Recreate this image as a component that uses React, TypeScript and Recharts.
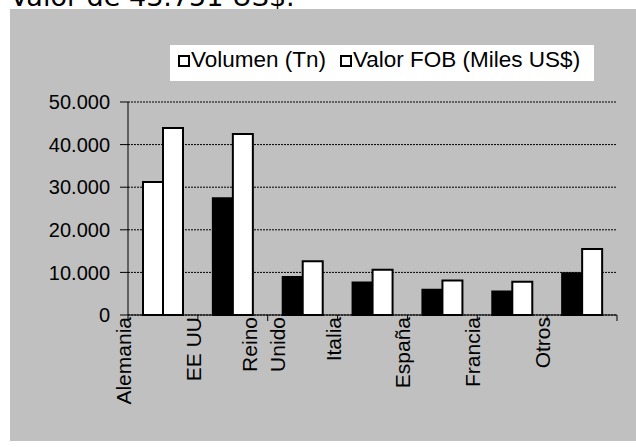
import { Bar, BarChart, CartesianGrid, Cell, XAxis, YAxis } from 'recharts'

// Exportaciones por destino
const paises = ['Alemania', 'EE UU', 'Reino Unido', 'Italia', 'España', 'Francia', 'Otros']
const volumen = [31200, 27400, 8900, 7600, 5900, 5500, 9800]
const valorFob = [43900, 42500, 12600, 10600, 8100, 7800, 15500]
const yTicks = [0, 10000, 20000, 30000, 40000, 50000]
const series = ['Volumen (Tn)', 'Valor FOB (Miles US$)']
const titulo = 'Valor de 43.751 US$.'

const data = paises.map((pais, i) => ({ pais, volumen: volumen[i], valorFob: valorFob[i] }))

const FONT = '"Liberation Sans", Arial, sans-serif'
const GRAY = '#c0c0c0'
const W = 626
const H = 432
const MARGIN = { top: 93, right: 19, bottom: 0, left: 0 }
const Y_AXIS_W = 118
const X_AXIS_H = 126

const fmt = (v: number) => String(v).replace(/\B(?=(\d{3})+(?!\d))/g, '.')

let ctx: CanvasRenderingContext2D | null = null
const measure = (s: string, size: number) => {
  if (!ctx) ctx = document.createElement('canvas').getContext('2d')
  if (!ctx) return s.length * size * 0.55
  ctx.font = `${size}px "Liberation Sans"`
  return ctx.measureText(s).width
}

const YTick = ({ x, y, payload }: any) => (
  <text x={x} y={y} dy="0.36em" textAnchor="end" fontFamily={FONT} fontSize={20} fill="#000">
    {fmt(payload.value)}
  </text>
)

// labels sit on the category boundaries, rotated, like the Excel original
const XTick = ({ x, y, payload, index }: any) => {
  const band = (W - MARGIN.right - Y_AXIS_W) / paises.length
  const half = payload.offset ?? band / 2
  const bx = x - half
  const label = String(payload.value)
  const lines = label.length > 9 ? label.split(' ') : [label]
  const size = 21
  const maxW = Math.max(...lines.map(l => measure(l, size)))
  const startY = y + 2 + maxW
  const step = 28
  return (
    <g>
      <line x1={bx} x2={bx} y1={y} y2={y + 6} stroke="#000" />
      {index === paises.length - 1 && <line x1={x + half} x2={x + half} y1={y} y2={y + 6} stroke="#000" />}
      {lines.map((l, i) => {
        const lx = bx + 3 + (i - (lines.length - 1) / 2) * step
        return (
          <text
            key={l}
            x={lx}
            y={startY}
            transform={`rotate(-90 ${lx} ${startY})`}
            textAnchor="start"
            fontFamily={FONT}
            fontSize={size}
            fill="#000"
          >
            {l}
          </text>
        )
      })}
    </g>
  )
}

const LegendBox = () => (
  <div
    style={{
      position: 'absolute',
      left: 160,
      top: 36,
      width: 424,
      height: 36,
      background: '#fff',
      fontFamily: FONT,
      fontSize: 22.5,
      color: '#000',
    }}
  >
    {series.map((s, i) => (
      <div key={s} style={{ position: 'absolute', left: i === 0 ? 8 : 170, top: 1.5, display: 'flex', whiteSpace: 'nowrap' }}>
        <span
          style={{
            display: 'inline-block',
            width: 12,
            height: 12,
            marginTop: 8.5,
            marginRight: 1,
            border: '2px solid #000',
            boxSizing: 'border-box',
            background: '#fff',
          }}
        />
        <span>{s}</span>
      </div>
    ))}
  </div>
)

export default function App() {
  return (
    <div style={{ position: 'absolute', left: 0, top: 0, width: 636, height: 447, overflow: 'hidden', background: '#fff' }}>
      <svg width={636} height={12} style={{ position: 'absolute', left: 0, top: 0 }}>
        <text x={10} y={6} fontFamily='"DejaVu Sans", sans-serif' fontSize={27} fill="#000">
          {titulo}
        </text>
      </svg>
      <div style={{ position: 'absolute', left: 10, top: 9, width: W, height: H, background: GRAY }}>
        <BarChart width={W} height={H} data={data} margin={MARGIN} barSize={20} barGap={0}>
          <CartesianGrid vertical={false} stroke="#000" strokeDasharray="2 1" />
          <XAxis
            dataKey="pais"
            height={X_AXIS_H}
            interval={0}
            tickLine={false}
            tickSize={0}
            tickMargin={0}
            axisLine={{ stroke: '#000' }}
            tick={<XTick />}
          />
          <YAxis
            width={Y_AXIS_W}
            domain={[0, 50000]}
            ticks={yTicks}
            interval={0}
            tickSize={8}
            tickMargin={10}
            axisLine={{ stroke: '#000' }}
            tickLine={{ stroke: '#000' }}
            tick={<YTick />}
          />
          <Bar dataKey="volumen" name={series[0]} stroke="#000" strokeWidth={2} isAnimationActive={false}>
            {data.map((d, i) => (
              <Cell key={d.pais} fill={i === 0 ? '#fff' : '#000'} />
            ))}
          </Bar>
          <Bar dataKey="valorFob" name={series[1]} fill="#fff" stroke="#000" strokeWidth={2} isAnimationActive={false} />
        </BarChart>
        <LegendBox />
      </div>
    </div>
  )
}
